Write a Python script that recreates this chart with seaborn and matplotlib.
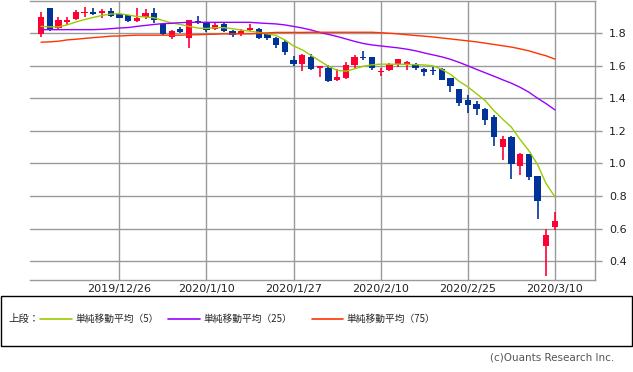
import numpy as np
import pandas as pd
import matplotlib
matplotlib.use("Agg")
import matplotlib.pyplot as plt
import seaborn as sns
from matplotlib.patches import Rectangle
from matplotlib.lines import Line2D

# ---------------- data ----------------
dates = ["2019/12/12", "2019/12/13", "2019/12/16", "2019/12/17", "2019/12/18",
         "2019/12/19", "2019/12/20", "2019/12/23", "2019/12/24", "2019/12/26",
         "2019/12/27", "2019/12/30", "2019/12/31", "2020/1/2", "2020/1/3",
         "2020/1/6", "2020/1/7", "2020/1/8", "2020/1/9", "2020/1/10",
         "2020/1/13", "2020/1/14", "2020/1/15", "2020/1/16", "2020/1/17",
         "2020/1/21", "2020/1/22", "2020/1/23", "2020/1/24", "2020/1/27",
         "2020/1/28", "2020/1/29", "2020/1/30", "2020/1/31", "2020/2/3",
         "2020/2/4", "2020/2/5", "2020/2/6", "2020/2/7", "2020/2/10",
         "2020/2/11", "2020/2/12", "2020/2/13", "2020/2/14", "2020/2/18",
         "2020/2/19", "2020/2/20", "2020/2/21", "2020/2/24", "2020/2/25",
         "2020/2/26", "2020/2/27", "2020/2/28", "2020/3/2", "2020/3/3",
         "2020/3/4", "2020/3/5", "2020/3/6", "2020/3/9", "2020/3/10"]

open_ = [1.798, 1.957, 1.834, 1.867, 1.888, 1.922, 1.930, 1.922, 1.936, 1.921,
         1.910, 1.875, 1.897, 1.926, 1.854, 1.774, 1.824, 1.768, 1.875, 1.865,
         1.824, 1.855, 1.814, 1.793, 1.818, 1.824, 1.794, 1.771, 1.749, 1.637,
         1.614, 1.655, 1.589, 1.589, 1.512, 1.522, 1.604, 1.655, 1.651, 1.559,
         1.573, 1.610, 1.606, 1.614, 1.581, 1.573, 1.580, 1.522, 1.459, 1.392,
         1.363, 1.337, 1.288, 1.104, 1.165, 0.982, 1.055, 0.920, 0.494, 0.608]
high = [1.930, 1.957, 1.900, 1.902, 1.943, 1.961, 1.957, 1.949, 1.953, 1.924,
        1.915, 1.953, 1.947, 1.955, 1.856, 1.822, 1.837, 1.883, 1.906, 1.871,
        1.861, 1.861, 1.820, 1.824, 1.857, 1.831, 1.798, 1.774, 1.759, 1.661,
        1.671, 1.671, 1.600, 1.604, 1.580, 1.624, 1.667, 1.692, 1.657, 1.586,
        1.615, 1.643, 1.630, 1.618, 1.586, 1.594, 1.586, 1.523, 1.460, 1.422,
        1.386, 1.338, 1.296, 1.171, 1.169, 1.067, 1.056, 0.921, 0.600, 0.702]
low = [1.779, 1.814, 1.826, 1.851, 1.883, 1.900, 1.912, 1.895, 1.902, 1.894,
       1.871, 1.869, 1.889, 1.860, 1.790, 1.763, 1.800, 1.707, 1.855, 1.808,
       1.820, 1.808, 1.779, 1.783, 1.814, 1.767, 1.759, 1.712, 1.667, 1.596,
       1.569, 1.575, 1.532, 1.502, 1.508, 1.516, 1.589, 1.635, 1.573, 1.539,
       1.569, 1.594, 1.572, 1.572, 1.536, 1.543, 1.511, 1.436, 1.351, 1.308,
       1.300, 1.239, 1.110, 1.024, 0.902, 0.926, 0.900, 0.657, 0.308, 0.594]
close = [1.900, 1.818, 1.881, 1.881, 1.930, 1.929, 1.918, 1.936, 1.908, 1.895,
         1.875, 1.895, 1.924, 1.881, 1.796, 1.814, 1.810, 1.881, 1.860, 1.820,
         1.849, 1.814, 1.788, 1.816, 1.832, 1.773, 1.773, 1.728, 1.687, 1.614,
         1.667, 1.583, 1.597, 1.504, 1.532, 1.606, 1.655, 1.646, 1.588, 1.569,
         1.610, 1.641, 1.626, 1.589, 1.559, 1.567, 1.515, 1.473, 1.369, 1.357,
         1.332, 1.269, 1.161, 1.153, 0.996, 1.055, 0.916, 0.769, 0.561, 0.645]

ma5 = [1.842, 1.839, 1.839, 1.851, 1.869, 1.884, 1.897, 1.909, 1.918, 1.920,
       1.912, 1.903, 1.900, 1.895, 1.878, 1.863, 1.854, 1.842, 1.832, 1.829,
       1.834, 1.834, 1.828, 1.819, 1.813, 1.805, 1.796, 1.786, 1.759, 1.722,
       1.698, 1.664, 1.630, 1.597, 1.572, 1.567, 1.581, 1.597, 1.606, 1.610,
       1.610, 1.610, 1.609, 1.607, 1.605, 1.600, 1.578, 1.548, 1.505, 1.471,
       1.428, 1.386, 1.324, 1.272, 1.223, 1.147, 1.079, 0.994, 0.875, 0.795]
ma25 = [1.822, 1.822, 1.822, 1.822, 1.822, 1.822, 1.822, 1.824, 1.828, 1.832,
        1.835, 1.842, 1.848, 1.854, 1.859, 1.861, 1.865, 1.867, 1.867, 1.867,
        1.867, 1.867, 1.867, 1.867, 1.867, 1.863, 1.860, 1.857, 1.851, 1.842,
        1.832, 1.820, 1.805, 1.793, 1.780, 1.765, 1.750, 1.737, 1.728, 1.722,
        1.716, 1.710, 1.702, 1.692, 1.679, 1.667, 1.655, 1.640, 1.621, 1.600,
        1.578, 1.557, 1.536, 1.514, 1.493, 1.468, 1.438, 1.401, 1.367, 1.329]
ma75 = [1.745, 1.747, 1.751, 1.759, 1.763, 1.768, 1.773, 1.777, 1.782, 1.783,
        1.786, 1.788, 1.788, 1.788, 1.788, 1.788, 1.788, 1.790, 1.791, 1.793,
        1.794, 1.796, 1.796, 1.796, 1.796, 1.799, 1.802, 1.805, 1.805, 1.805,
        1.805, 1.806, 1.806, 1.806, 1.806, 1.806, 1.806, 1.806, 1.806, 1.803,
        1.800, 1.796, 1.791, 1.786, 1.782, 1.777, 1.771, 1.765, 1.759, 1.753,
        1.747, 1.739, 1.731, 1.723, 1.715, 1.704, 1.692, 1.676, 1.661, 1.641]

tick_dates = ["2019/12/26", "2020/1/10", "2020/1/27", "2020/2/10", "2020/2/25", "2020/3/10"]
y_ticks = [0.4, 0.6, 0.8, 1.0, 1.2, 1.4, 1.6, 1.8]
legend_labels = ["単純移動平均（5）", "単純移動平均（25）", "単純移動平均（75）"]

# ---------------- styling ----------------
sns.set_style("white")
plt.rcParams['font.family'] = ['DejaVu Sans', 'Noto Sans CJK JP']

UP = "#ff0033"
DOWN = "#003399"
MA_COLORS = ["#99cc00", "#9900ff", "#ff3300"]
GRID = "#999999"

W, H = 633, 372
fig = plt.figure(figsize=(W / 100, H / 100), dpi=100)
ax = fig.add_axes([30 / W, 1 - 280 / H, 565 / W, 279 / H])

df = pd.DataFrame({"date": dates, "open": open_, "high": high,
                   "low": low, "close": close,
                   "ma5": ma5, "ma25": ma25, "ma75": ma75})
df["x"] = np.arange(len(df))
df["up"] = df["close"] >= df["open"]
df["colour"] = np.where(df["up"], UP, DOWN)
df["bottom"] = df[["open", "close"]].min(axis=1)
df["height"] = (df["close"] - df["open"]).abs().clip(lower=0.006)

# grid
for v in y_ticks:
    ax.axhline(v, color=GRID, lw=1.0, zorder=0)
tick_pos = [dates.index(d) for d in tick_dates]
for p in tick_pos:
    ax.axvline(p, color=GRID, lw=1.0, zorder=0)

# candles
ax.vlines(df["x"], df["low"], df["high"], colors=df["colour"], lw=1.2, zorder=2)
ax.bar(df["x"], df["height"], bottom=df["bottom"], width=0.72,
       color=df["colour"], edgecolor="none", zorder=3, linewidth=0)

# moving averages
ma_long = df.melt(id_vars="x", value_vars=["ma5", "ma25", "ma75"],
                  var_name="ma", value_name="val")
sns.lineplot(data=ma_long, x="x", y="val", hue="ma",
             palette=dict(zip(["ma5", "ma25", "ma75"], MA_COLORS)),
             lw=1.0, ax=ax, legend=False, zorder=4)

ax.set_xlim(-1.26, 63.6)
ax.set_ylim(0.284, 1.998)
ax.set_xlabel("")
ax.set_ylabel("")

ax.set_xticks(tick_pos)
ax.set_xticklabels(tick_dates, fontsize=8, color="#222222")
ax.tick_params(axis="x", length=0, pad=3)
ax.yaxis.tick_right()
ax.set_yticks(y_ticks)
ax.set_yticklabels([f"{v:.1f}" for v in y_ticks], fontsize=8, color="#222222")
ax.tick_params(axis="y", length=5, color=GRID, width=1.0, pad=5)

for s in ["top", "right", "bottom"]:
    ax.spines[s].set_color(GRID)
    ax.spines[s].set_linewidth(1.0)
ax.spines["left"].set_visible(False)

# legend box
fig.patches.append(Rectangle((0.5 / W, 1 - 346 / H), 631.5 / W, 50 / H,
                             transform=fig.transFigure, fill=False,
                             edgecolor="black", lw=1.0))
ly = 1 - 319 / H
fig.text(8 / W, ly, "上段：", fontsize=7.5, va="center", ha="left",
         family=['Noto Sans CJK JP', 'DejaVu Sans'])
segs = [(40, 72, 75), (168, 200, 203), (312, 343, 346)]
for (x0, x1, tx), c, lab in zip(segs, MA_COLORS, legend_labels):
    fig.lines.append(Line2D([x0 / W, x1 / W], [ly, ly], transform=fig.transFigure,
                            color=c, lw=1.2))
    fig.text(tx / W, ly, lab, fontsize=7, va="center", ha="left",
             family=['Noto Sans CJK JP', 'DejaVu Sans'])

fig.text(614 / W, 1 - 358 / H, "(c)Ouants Research Inc.", fontsize=7.5,
         ha="right", va="center", color="#555555")

fig.savefig("out.png", dpi=100)
